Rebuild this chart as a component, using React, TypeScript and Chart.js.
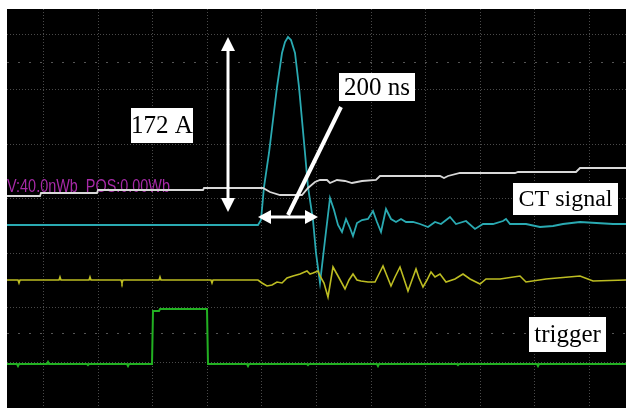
import React, { useEffect, useRef } from "react";
import { Chart, registerables } from "chart.js";
Chart.register(...registerables);

// x = record sample index, y = screen level (counts)
const fluxSamples = [0,33,34,90,91,196,197,256,263,273,295,301,308,313,320,323,330,338,345,355,369,373,433,437,441,453,508,511,569,573,619];
const fluxLevels = [212,212,215,215,218,218,220,220,216,213,213,220,226,228,228,225,228,227,225,227,228,232,232,230,232,235,235,236,236,240,240];

const ctSamples = [0,251,254,257,262,266,270,275,278,281,284,288,292,295,298,301,306,309,313,318,323,327,331,335,339,343,346,350,355,361,366,370,374,379,384,389,394,399,406,413,421,428,434,443,449,459,468,476,486,496,499,503,519,533,546,556,573,606,619];
const ctLevels = [183,183,188,221,255,288,321,355,366,371,368,355,321,288,255,221,188,155,125,168,210,198,183,176,189,180,172,185,188,189,197,186,176,199,189,186,189,186,186,184,181,186,184,191,184,187,179,184,184,187,189,184,184,181,182,184,186,184,184];

const yellowSamples = [0,11,12,13,52,53,54,82,83,84,114,115,116,152,153,154,204,205,206,251,255,260,265,270,275,280,286,293,300,303,306,311,313,317,321,326,331,338,342,346,350,354,361,368,372,376,380,384,388,393,397,401,405,409,412,416,420,424,428,433,439,448,456,463,473,479,493,513,519,539,573,586,619];
const yellowLevels = [128,128,125,128,128,131,128,128,131,128,128,125,128,128,131,128,128,125,128,128,125,122,123,126,125,130,132,134,137,134,135,137,132,125,111,141,132,119,128,134,128,127,126,126,134,142,132,122,131,141,129,117,128,139,130,121,128,136,131,134,126,129,134,129,124,129,129,132,126,129,132,127,128];

const triggerSamples = [0,10,11,12,40,41,42,80,81,82,120,121,122,145,146,152,153,200,201,240,241,242,300,301,302,370,371,372,450,451,452,530,531,532,619];
const triggerLevels = [44,44,42,44,44,46,44,44,43,44,44,42,44,44,97,97,99,99,44,44,42,44,44,43,44,44,42,44,44,43,44,44,42,44,44];

const xGridTicks = [36, 90.6, 145.2, 199.8, 254.4, 309, 363.6, 418.2, 472.8, 527.4, 582];
const yGridTicks = [46, 100.6, 155.2, 209.8, 264.4, 319, 373.6];
const yDotRows = [75, 346];

const channelLabel = "V:40.0nWb  POS:0.00Wb";
const amplitudeLabel = "172 A";
const widthLabel = "200 ns";
const ctLabel = "CT signal";
const triggerLabel = "trigger";

function pts(xs: number[], ys: number[]) {
  return xs.map((x, i) => ({ x, y: ys[i] }));
}

function arrowHead(ctx: CanvasRenderingContext2D, x1: number, y1: number, x2: number, y2: number, len: number, half: number) {
  const ang = Math.atan2(y2 - y1, x2 - x1);
  ctx.beginPath();
  ctx.moveTo(x2, y2);
  ctx.lineTo(x2 - len * Math.cos(ang) + half * Math.sin(ang), y2 - len * Math.sin(ang) - half * Math.cos(ang));
  ctx.lineTo(x2 - len * Math.cos(ang) - half * Math.sin(ang), y2 - len * Math.sin(ang) + half * Math.cos(ang));
  ctx.closePath();
  ctx.fill();
}

const scopePlugin = {
  id: "scope",
  beforeDatasetsDraw(chart: any) {
    const { ctx, chartArea: a, scales } = chart;
    const xs = scales.x, ys = scales.y;
    ctx.save();
    ctx.fillStyle = "#000";
    ctx.fillRect(a.left, a.top, a.right - a.left, a.bottom - a.top);
    ctx.strokeStyle = "#4a4a4a";
    ctx.lineWidth = 1;
    ctx.setLineDash([1, 2]);
    for (const g of xGridTicks) {
      const px = Math.round(xs.getPixelForValue(g)) + 0.5;
      ctx.beginPath(); ctx.moveTo(px, a.top); ctx.lineTo(px, a.bottom); ctx.stroke();
    }
    for (const g of yGridTicks) {
      const py = Math.round(ys.getPixelForValue(g)) + 0.5;
      ctx.beginPath(); ctx.moveTo(a.left, py); ctx.lineTo(a.right, py); ctx.stroke();
    }
    ctx.strokeStyle = "#555";
    ctx.setLineDash([2, 9]);
    for (const g of yDotRows) {
      const py = Math.round(ys.getPixelForValue(g)) + 0.5;
      ctx.beginPath(); ctx.moveTo(a.left, py); ctx.lineTo(a.right, py); ctx.stroke();
    }
    ctx.setLineDash([]);
    // channel label
    ctx.font = "18px 'Liberation Sans', Arial, sans-serif";
    ctx.fillStyle = "#a82aa8";
    ctx.textBaseline = "alphabetic";
    const w = ctx.measureText(channelLabel).width;
    const lx = xs.getPixelForValue(0);
    const ly = ys.getPixelForValue(216);
    ctx.translate(lx, ly);
    ctx.scale(163 / w, 1);
    ctx.fillText(channelLabel, 0, 0);
    ctx.restore();
  },
  afterDatasetsDraw(chart: any) {
    const { ctx, scales } = chart;
    const X = (v: number) => scales.x.getPixelForValue(v);
    const Y = (v: number) => scales.y.getPixelForValue(v);
    ctx.save();
    ctx.strokeStyle = "#fff";
    ctx.fillStyle = "#fff";
    // vertical double arrow
    ctx.lineWidth = 3;
    const vx = X(221), vt = Y(371), vb = Y(196);
    ctx.beginPath(); ctx.moveTo(vx, vt + 10); ctx.lineTo(vx, vb - 10); ctx.stroke();
    arrowHead(ctx, vx, vb, vx, vt, 14, 7);
    arrowHead(ctx, vx, vt, vx, vb, 14, 7);
    // horizontal double arrow
    const hy = Y(191), hl = X(251), hr = X(311);
    ctx.beginPath(); ctx.moveTo(hl + 10, hy); ctx.lineTo(hr - 10, hy); ctx.stroke();
    arrowHead(ctx, hr, hy, hl, hy, 13, 7);
    arrowHead(ctx, hl, hy, hr, hy, 13, 7);
    // diagonal pointer
    ctx.lineWidth = 4;
    ctx.beginPath(); ctx.moveTo(X(281), Y(193)); ctx.lineTo(X(334), Y(301)); ctx.stroke();

    const box = (text: string, s1: number, s2: number, v1: number, v2: number, size: number) => {
      const x1 = X(s1), x2 = X(s2), y1 = Y(v1), y2 = Y(v2);
      ctx.fillStyle = "#fff";
      ctx.fillRect(x1, y1, x2 - x1, y2 - y1);
      ctx.fillStyle = "#000";
      ctx.font = `${size}px 'Liberation Serif', 'Times New Roman', serif`;
      ctx.textAlign = "center";
      ctx.textBaseline = "middle";
      ctx.fillText(text, (x1 + x2) / 2, (y1 + y2) / 2 + 1);
    };
    box(amplitudeLabel, 124, 186, 300, 265, 25);
    box(widthLabel, 332, 408, 335, 307, 25);
    box(ctLabel, 506, 611, 225, 193, 24);
    box(triggerLabel, 522, 599, 91, 56, 25);
    ctx.restore();
  },
};

export default function App() {
  const ref = useRef<HTMLCanvasElement>(null);
  useEffect(() => {
    if (!ref.current) return;
    const line = (data: any, color: string, width: number) => ({
      data, borderColor: color, borderWidth: width, pointRadius: 0, tension: 0, showLine: true, fill: false,
    });
    const chart = new Chart(ref.current, {
      type: "scatter",
      data: {
        datasets: [
          line(pts(triggerSamples, triggerLevels), "#22b022", 2),
          line(pts(yellowSamples, yellowLevels), "#bdbd22", 1.6),
          line(pts(fluxSamples, fluxLevels), "#d8d8d8", 1.8),
          line(pts(ctSamples, ctLevels), "#2aaab2", 1.8),
        ],
      },
      options: {
        animation: false,
        responsive: false,
        maintainAspectRatio: false,
        layout: { padding: { left: 7, top: 9, right: 0, bottom: 0 } },
        plugins: { legend: { display: false }, tooltip: { enabled: false } },
        scales: {
          x: { type: "linear", min: 0, max: 619, display: false },
          y: { type: "linear", min: 0, max: 399, display: false },
        },
      },
      plugins: [scopePlugin],
    } as any);
    return () => chart.destroy();
  }, []);
  return (
    <div style={{ position: "absolute", left: 0, top: 0, width: 626, height: 408, background: "#fff" }}>
      <canvas ref={ref} width={626} height={408} style={{ display: "block", width: 626, height: 408 }} />
    </div>
  );
}
